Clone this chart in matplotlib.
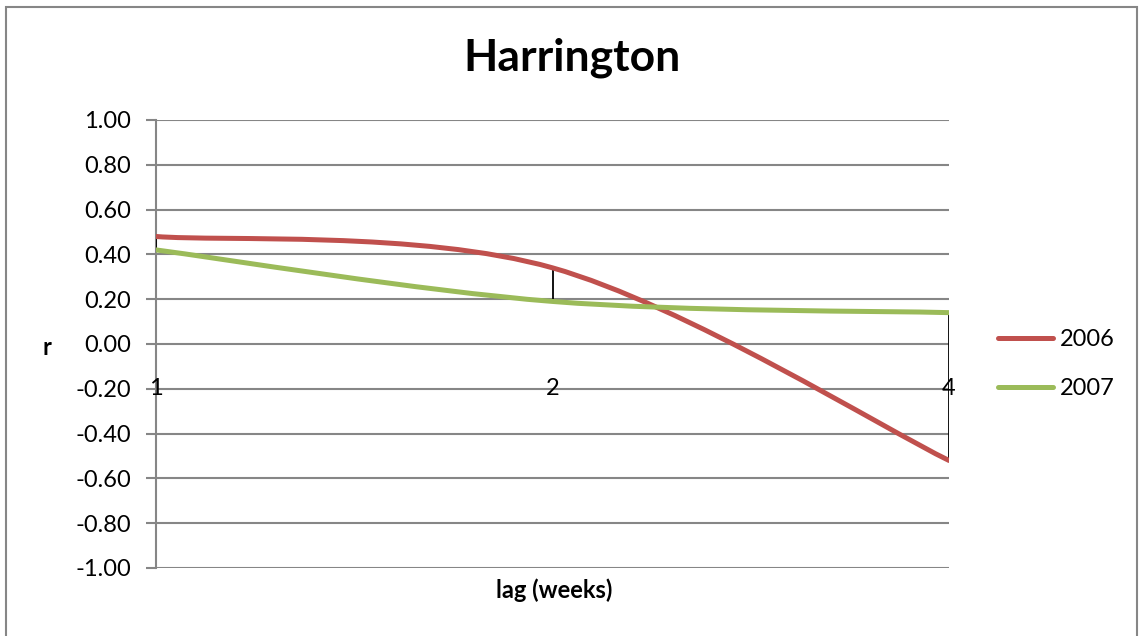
import numpy as np
import matplotlib.pyplot as plt
from matplotlib.path import Path
from matplotlib.patches import PathPatch, Rectangle
from matplotlib.lines import Line2D

plt.rcParams['font.family'] = ['Lato', 'DejaVu Sans']

lags = ['1', '2', '4']
r_2006 = [0.48, 0.34, -0.52]
r_2007 = [0.42, 0.19, 0.14]
years = ['2006', '2007']
colors = ['#C0504D', '#9BBB59']


def smooth_path(xs, ys):
    # excel style smoothed line: bezier through the points
    pts = np.column_stack([xs, ys]).astype(float)
    ext = np.vstack([pts[0], pts, pts[-1]])
    verts = [pts[0]]
    codes = [Path.MOVETO]
    for i in range(len(pts) - 1):
        p0, p1, p2, p3 = ext[i], ext[i + 1], ext[i + 2], ext[i + 3]
        verts += [p1 + (p2 - p0) / 6, p2 - (p3 - p1) / 6, p2]
        codes += [Path.CURVE4] * 3
    return Path(verts, codes)


fig = plt.figure(figsize=(11.4, 6.36), dpi=100)
fig.patches.append(Rectangle((6 / 1140, -0.1), 1131 / 1140, 1.1 - 7 / 636,
                             transform=fig.transFigure, fill=False,
                             edgecolor='#868686', lw=1.5))

ax = fig.add_axes([156 / 1140, 1 - 568 / 636, 793 / 1140, 448 / 636])
x = np.arange(len(lags))

yt = np.round(np.arange(-1, 1.01, 0.2), 2)
ax.set_xlim(0, len(lags) - 1)
ax.set_ylim(-1, 1)
ax.set_yticks(yt)
ax.set_yticklabels(['%.2f' % (v + 0.0) for v in yt], fontsize=17)
ax.grid(axis='y', color='#868686', lw=1.5)
ax.set_axisbelow(True)
ax.tick_params(axis='y', length=7, width=1.5, color='#868686', pad=11)
ax.set_xticks([])
for s in ['top', 'right', 'bottom']:
    ax.spines[s].set_visible(False)
ax.spines['left'].set_color('#868686')
ax.spines['left'].set_linewidth(1.5)

# high-low lines
for i in x:
    lo = min(r_2006[i], r_2007[i])
    hi = max(r_2006[i], r_2007[i])
    ax.plot([i, i], [lo, hi], color='black', lw=1.3, zorder=3)

for vals, c in zip([r_2006, r_2007], colors):
    ax.add_patch(PathPatch(smooth_path(x, vals), fill=False, edgecolor=c,
                           lw=3.6, capstyle='round', zorder=4))

# category labels sit at the axis crossing
for i, lab in zip(x, lags):
    ax.text(i, -0.2, lab, ha='center', va='center', fontsize=17, zorder=5)

fig.text(572 / 1140, 1 - 58 / 636, 'Harrington', ha='center', va='center',
         fontsize=32, fontweight='bold')
fig.text(47 / 1140, 1 - 347 / 636, 'r', ha='center', va='center',
         fontsize=17, fontweight='bold')
fig.text(554 / 1140, 1 - 590 / 636, 'lag (weeks)', ha='center', va='center',
         fontsize=17, fontweight='bold')

handles = [Line2D([], [], color=c, lw=3.6, solid_capstyle='round') for c in colors]
fig.legend(handles, years, loc='center left',
           bbox_to_anchor=(977 / 1140, 1 - 364 / 636), frameon=False,
           fontsize=17, handlelength=2.3, handletextpad=0.3, labelspacing=1.2)

fig.savefig('out.png', dpi=100)
